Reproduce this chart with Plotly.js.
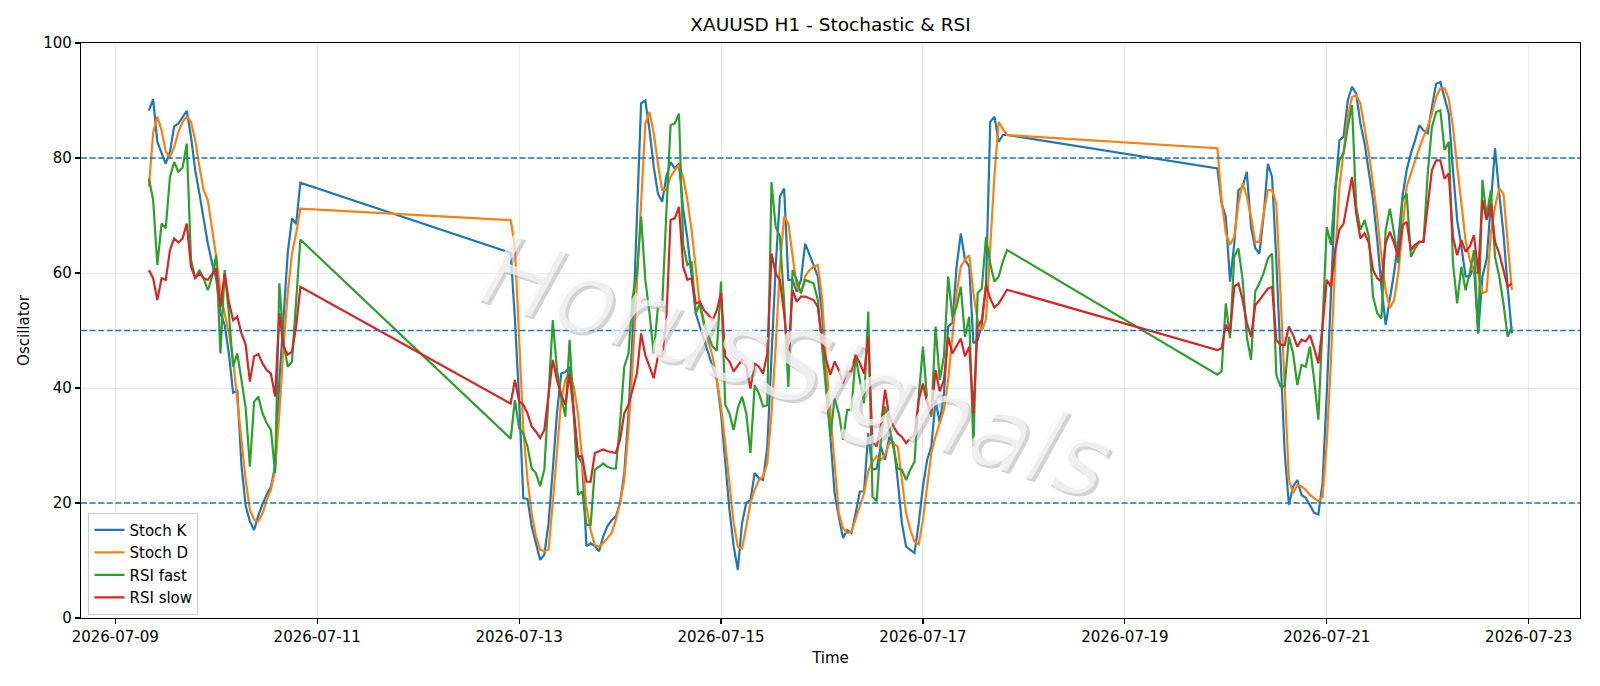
<!DOCTYPE html>
<html>
<head>
<meta charset="utf-8">
<script src="https://cdn.plot.ly/plotly-3.0.1.min.js"></script>
<style>html,body{margin:0;padding:0;background:#fff;}#chart{width:1600px;height:686px;}</style>
</head>
<body>
<div id="chart"></div>
<script>
// ---- data (hourly bars, three trading segments) ----
const segStarts = ['2026-07-09T08:00:00Z', '2026-07-12T22:00:00Z', '2026-07-19T22:00:00Z'];
const segLengths = [37, 119, 71];

const stochK = [
  88.3, 90.2, 82.8, 80.8, 79.0, 81.1, 85.5, 86.0, 87.0, 88.2, 83.7, 77.9, 73.8, 69.2, 65.1, 61.8, 59.0, 53.0, 51.0, 46.0, 39.2, 39.5, 26.5, 19.5, 16.8, 15.3, 17.8, 19.8, 21.5, 22.8, 26.5, 41.0, 53.0, 63.5, 69.5, 68.5, 75.7,
  63.5, 52, 38, 20.8, 20.7, 15.9, 13, 10.1, 11, 16.5,
  25.8, 35.6, 42.5, 42.8, 43.7, 36, 28.1, 26.9, 12.5, 13,
  12.5, 11.6, 14.2, 16, 17, 17.7, 20, 25.2, 35.6, 49.5,
  70.4, 89.5, 90, 84.8, 78.5, 73.8, 72.4, 76.7, 79.3, 78.2,
  79, 71, 66, 60, 53, 50.6, 48.3, 46, 44, 41.4,
  35.6, 27.5, 18.8, 12.5, 8.4, 16.5, 20, 20.5, 25.2, 24.3,
  24, 29.8, 46, 61.1, 73.3, 74.7, 58.8, 58.8, 56.7, 58.8,
  65.1, 63.4, 61.4, 59.4, 53, 41.4, 31.6, 21.7, 17.6, 13.9,
  15.3, 14.8, 18.2, 22, 22, 32.1, 25.8, 26, 29.8, 27.5,
  31.5, 30.4, 24, 16.5, 12.4, 11.9, 11.3, 16.5, 22.9, 27.5,
  29.8, 37.9, 33.9, 39.1, 50.7, 51.3, 61.1, 66.9, 62.3, 61.1,
  47.8, 48.3, 51, 58, 86.3, 87.2, 82.8, 84, 84,
  78.2, 72.1, 69.8, 58.5, 65, 74.4, 75, 77.6, 68, 64.3,
  63.4, 70, 79, 76.7, 62.3, 44.9, 28.7, 19.7, 22.9, 24,
  21.4, 20.9, 19.7, 18.3, 18, 23.5, 39, 56.5, 73.8, 83.1,
  83.7, 90, 92.4, 91.2, 86, 82.5, 77.9, 72.7, 65.7, 57.6,
  51, 55.3, 60, 65.7, 73.3, 77.9, 80.8, 83.1, 85.7, 84.8,
  84.3, 88.9, 92.9, 93.2, 90.6, 87.7, 77.9, 69.2, 64.6, 59.4,
  59.4, 61.1, 49.5, 59.4, 62.3, 72.7, 81.7, 73.8, 66.9, 57.6, 49.5
];

const stochD = [
  75, 84.3, 87.2, 84.8, 81.1, 80.2, 81.9, 84.5, 86.3, 87.2, 86.3, 83.1, 78.5, 74.4, 72.7, 67.5, 62.8, 56.5, 53, 49.5, 44.9, 37.9, 31, 24, 18.8, 17.1, 16.8, 18.2, 20.5, 22.3, 25.8, 35.6, 47.2, 56.5, 63.4, 66.9, 71.2,
  69.2, 64.6, 47.2, 32.7, 24, 18.2, 14.2, 11.9, 11.6, 11.9,
  20, 29.8, 37.9, 41.4, 42.5, 40.2, 35.6, 27.5, 19.4, 15.3,
  12.7, 12.4, 13, 13.9, 14.8, 17.1, 20, 24, 32.7, 44.3,
  58.8, 73.3, 86, 88, 84.3, 79, 74.4, 74.4, 76.7, 77.9,
  78.8, 76.7, 72.7, 67.5, 61.1, 54.1, 50.7, 48.3, 45.5, 41.4,
  36.8, 30.4, 22.9, 16.5, 12.4, 12.1, 15.9, 20, 22.3, 24,
  24.6, 26.9, 35.6, 47.2, 61.1, 69.8, 68.6, 62.8, 57.6, 56.5,
  59.4, 60.5, 61.1, 61.4, 55.9, 44.3, 35.6, 26.9, 18.2, 15.6,
  14.8, 15, 17.1, 19.4, 21.7, 25.5, 27.2, 28.1, 27.5, 28.4,
  30.4, 30.4, 29.8, 24, 18.2, 15.3, 13.3, 12.8, 17.1, 22.9,
  28.7, 31.6, 33.9, 36.2, 41.4, 49.5, 56.5, 61.1, 62.3, 63.1,
  56.5, 51.8, 50, 52, 65, 77, 86.3, 85, 84,
  81.7, 72.7, 66.9, 64.9, 66.3, 72.1, 75.6, 73.3, 69.8, 65.4,
  65.4, 70.4, 74.4, 74.4, 72.1, 56.5, 39.1, 24, 21.7, 23.2,
  22.9, 22.3, 21.4, 20.8, 20.3, 21.1, 30.4, 44.9, 62.3, 75,
  80.8, 87.2, 90.6, 90.9, 89.5, 85.4, 80.8, 75.6, 69.8, 62.8,
  57, 53.9, 55.3, 60, 66.9, 75, 77.3, 79.6, 81.7, 83.7,
  85.4, 87.7, 90.6, 92.1, 92.1, 90.3, 85.4, 78.5, 71.5, 65.7,
  62.3, 60.2, 59.9, 56.5, 56.8, 66.9, 71.5, 74.7, 73.8, 65.7, 57
];

const rsiFast = [
  76.4, 72.7, 61.4, 68.6, 67.8, 76.7, 79.3, 77.6, 78.3, 82.5, 62.3, 59.1, 60.5, 59.1, 57.0, 59.3, 63.1, 46.0, 60.5, 53, 43.7, 46.0, 41.4, 36.5, 26.3, 37.6, 38.5, 35.6, 33.9, 32.7, 25.2, 58.2, 47.8, 43.7, 44.6, 55, 65.8,
  31.2, 37.9, 33, 32.1, 29.8, 26, 25.2, 22.9, 25.8, 38.5,
  51.8, 43.1, 38.5, 35, 48.4, 35.6, 21.4, 22, 16.2, 16.2,
  25.8, 26.3, 26.9, 26.3, 26, 26, 33.9, 43.7, 46, 55.9,
  59.9, 69.8, 58.8, 53, 46, 54.1, 54.1, 70.4, 85.7, 86,
  87.7, 65, 61.4, 62, 53, 54.7, 51.3, 49, 47.2, 46.5,
  58.5, 37.1, 35.6, 32.7, 36.5, 38.5, 35.6, 28.7, 40.5, 39.1,
  36.8, 37, 75.8, 68, 66.3, 55, 40.2, 60.5, 58.8, 56.5,
  58.8, 58.5, 58.2, 55.3, 47.2, 39.7, 31.6, 38.2, 35.6, 31,
  36.2, 36.2, 45.5, 41.4, 37.4, 53.3, 21.1, 20.3, 31, 36.8,
  33.3, 29.3, 26, 25.8, 24, 25.8, 27.2, 38.5, 47.2, 37.9,
  35, 50.7, 41.4, 45.5, 59.4, 52.4, 54.1, 57.6, 48.9, 52.4,
  29.8, 56.5, 57.3, 66.3, 61.6, 58.5, 59.4, 62, 64,
  42.3, 42.9, 54.7, 48.7, 62.8, 64.3, 58.8, 48.9, 44.9, 56.8,
  58.2, 60, 62.5, 63.4, 42.3, 40.3, 40.3, 48.9, 46, 40.5,
  44, 43.7, 47.2, 41.4, 34.5, 51.8, 68, 64.9, 75, 79.6,
  80.8, 85.4, 89.2, 71.5, 67.5, 69.2, 66.3, 55.9, 53, 52.1,
  67.5, 71.2, 66.9, 61.7, 72.7, 73.8, 62.8, 64.3, 65.4, 65.4,
  77.3, 85.4, 88, 88.3, 81.4, 82.8, 61.7, 54.7, 61.1, 57,
  60, 64, 49.5, 76.2, 69.8, 74.4, 62.8, 59.4, 54.7, 48.9, 50.7
];

const rsiSlow = [
  60.5, 59.1, 55.3, 59.1, 58.8, 64.0, 66.0, 65.3, 66.0, 68.6, 61.1, 59.1, 59.9, 59.1, 58.8, 59.9, 60.8, 54.1, 59.9, 55.0, 51.8, 52.4, 49.5, 47.5, 41.1, 45.5, 45.9, 44.3, 43.1, 42.5, 38.5, 53.0, 47.2, 45.8, 46.3, 50.7, 57.6,
  37.3, 41.4, 37.7, 37.1, 35.6, 33.3, 32.4, 31.3, 32.7, 38.5,
  44.9, 41.4, 38.8, 37.1, 42.5, 35.6, 28.1, 28.1, 23.7, 23.7,
  28.7, 29, 29.3, 29, 28.8, 28.7, 31, 35.6, 37.1, 39.7,
  42.5, 49.5, 45.7, 43.7, 41.7, 45.5, 45.5, 51.8, 69.2, 69.5,
  71.5, 61.1, 58.8, 59.1, 54.7, 55, 53.5, 52.7, 51.8, 53.5,
  56.5, 45.5, 44.6, 42.9, 44, 44.9, 43.7, 39.9, 44.3, 43.7,
  42.5, 46, 63.4, 59.9, 58.8, 53, 45.5, 57, 55, 55.9,
  55.9, 55.6, 55.3, 54.1, 48.3, 44.9, 42.3, 44.6, 43.1, 40.8,
  42.9, 42.9, 45.8, 44.3, 42.5, 48.9, 30.7, 29.8, 33.3, 39.7,
  35, 33.3, 32.1, 31.5, 30.4, 31.3, 31.8, 37.9, 40.8, 37.4,
  35.6, 43.1, 39.4, 41.4, 48.9, 46, 47.2, 48.6, 45.5, 47.2,
  35.6, 50.7, 51.8, 57.9, 55.6, 54, 54.7, 56, 57.1,
  46.6, 46.9, 51, 49.5, 57.6, 58.2, 55.3, 51.3, 48.9, 54.4,
  55.3, 56.2, 57.3, 57.6, 48.4, 47.5, 47.5, 50.7, 49.2, 47.2,
  48.4, 48.1, 49.2, 46.9, 44.3, 50.7, 58.8, 57.6, 64, 67.5,
  68.6, 72.7, 76.7, 70.4, 66, 66.9, 65.2, 60.5, 59.1, 58.5,
  65.2, 67.2, 65.2, 62.8, 68.3, 68.9, 64, 64.9, 65.4, 65.4,
  71.5, 77.9, 79.6, 79.6, 76.4, 77.3, 66.3, 63.1, 65.7, 63.7,
  64.6, 66.6, 59.9, 72.7, 69.2, 72.1, 65.4, 63.4, 60.5, 57.6, 58.2
];

const seriesNames = ['Stoch K', 'Stoch D', 'RSI fast', 'RSI slow'];
const levels = [20, 50, 80];
const xTickDates = ['2026-07-09', '2026-07-11', '2026-07-13', '2026-07-15', '2026-07-17', '2026-07-19', '2026-07-21', '2026-07-23'];
const yTicks = [0, 20, 40, 60, 80, 100];
const titleText = 'XAUUSD H1 - Stochastic & RSI';
const watermarkText = 'HorusSignals';

// ---- hourly timestamps for each segment ----
function pad(n) { return String(n).padStart(2, '0'); }
const times = [];
segStarts.forEach((s, i) => {
  const t0 = Date.parse(s);
  for (let k = 0; k < segLengths[i]; k++) {
    const d = new Date(t0 + k * 3600000);
    times.push(d.getUTCFullYear() + '-' + pad(d.getUTCMonth() + 1) + '-' + pad(d.getUTCDate()) + ' ' + pad(d.getUTCHours()) + ':00');
  }
});

const colors = ['#1f77b4', '#ff7f0e', '#2ca02c', '#d62728'];
const values = [stochK, stochD, rsiFast, rsiSlow];
const traces = values.map((v, i) => ({
  type: 'scatter', mode: 'lines', name: seriesNames[i],
  x: times.slice(0, v.length), y: v,
  line: {color: colors[i], width: 2.2}
}));

const FONT = 'DejaVu Sans, Verdana, sans-serif';
const layout = {
  width: 1600, height: 686,
  margin: {l: 81, r: 20, t: 43, b: 68},
  paper_bgcolor: '#ffffff', plot_bgcolor: '#ffffff',
  font: {family: FONT, size: 15, color: '#000000'},
  showlegend: true,
  title: {text: titleText, x: 0.5, xref: 'paper', xanchor: 'center', y: 1 - 25 / 686, yref: 'container', yanchor: 'middle', font: {family: FONT, size: 18.5, color: '#000000'}},
  xaxis: {
    type: 'date', range: ['2026-07-08 15:51', '2026-07-23 12:12'],
    tickvals: xTickDates, ticktext: xTickDates,
    showgrid: true, gridcolor: '#e8e8e8', gridwidth: 1,
    ticks: 'outside', ticklen: 5, tickwidth: 1.2, tickcolor: '#000000',
    showline: true, linecolor: '#000000', linewidth: 1.2, mirror: true, zeroline: false,
    tickfont: {family: FONT, size: 15, color: '#000000'},
    title: {text: 'Time', standoff: 7, font: {family: FONT, size: 15, color: '#000000'}}
  },
  yaxis: {
    range: [0, 100], tickvals: yTicks,
    showgrid: true, gridcolor: '#e8e8e8', gridwidth: 1,
    ticks: 'outside', ticklen: 5, tickwidth: 1.2, tickcolor: '#000000',
    showline: true, linecolor: '#000000', linewidth: 1.2, mirror: true, zeroline: false,
    tickfont: {family: FONT, size: 15, color: '#000000'},
    title: {text: 'Oscillator', standoff: 10, font: {family: FONT, size: 15, color: '#000000'}}
  },
  legend: {
    x: 0.005, y: 0.006, xanchor: 'left', yanchor: 'bottom',
    bgcolor: 'rgba(255,255,255,0.85)', bordercolor: '#cccccc', borderwidth: 1,
    font: {family: FONT, size: 15, color: '#000000'}, itemwidth: 30, tracegroupgap: 0
  },
  shapes: levels.map(v => ({
    type: 'line', xref: 'paper', x0: 0, x1: 1, yref: 'y', y0: v, y1: v,
    line: {color: '#1f77b4', width: 1.5, dash: '6px,2.6px'}, layer: 'above'
  })),
  annotations: [
    {text: watermarkText, xref: 'paper', yref: 'paper', x: 0.477, y: 0.437, showarrow: false,
     textangle: 18, xshift: 3, yshift: -3,
     font: {family: FONT, size: 100, color: 'rgba(140,140,140,0.38)', style: 'italic'}},
    {text: watermarkText, xref: 'paper', yref: 'paper', x: 0.477, y: 0.437, showarrow: false,
     textangle: 18,
     font: {family: FONT, size: 100, color: 'rgba(250,250,250,0.72)', style: 'italic'}}
  ]
};

Plotly.newPlot('chart', traces, layout, {staticPlot: true, displayModeBar: false});
</script>
</body>
</html>
